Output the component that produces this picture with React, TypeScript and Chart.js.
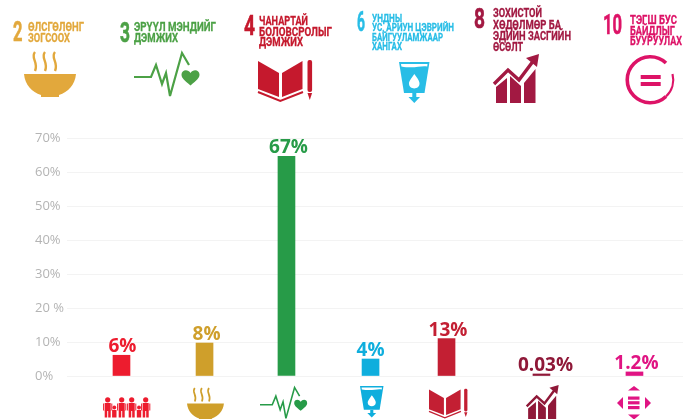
import React, { useEffect, useRef } from "react";
import { Chart, registerables } from "chart.js";

Chart.register(...registerables);

const categories = ["Ядуурал", "Өлсгөлөн", "Эрүүл мэнд", "Ус", "Боловсрол", "Хөдөлмөр", "Тэгш бус байдал"];
const barValues = [6.1, 9.7, 64.6, 5, 11, 0.6, 1.2];
const valueLabels = ["6%", "8%", "67%", "4%", "13%", "0.03%", "1.2%"];
const barColors = ["#ED1C2E", "#CF9F2B", "#279B48", "#0FAEDD", "#C31F33", "#8F1838", "#E01483"];
const tickLabels = ["0%", "10%", "20 %", "30%", "40%", "50%", "60%", "70%"];
const barSlots = [0.641, 1.618, 2.582, 3.571, 4.465, 5.582, 6.676];
const labelShifts = [1, 2, 2, 0, 1.5, 4, 2];

type Heading = { digit: string; digitX: number; digitY: number; digitW: number; color: string; x: number; size: number; lines: any[]; baselines: number[] };

const headings: Heading[] = [
  { digit: "2", digitX: 13, digitY: 41, digitW: 9.5, color: "#E2A83C", x: 28, size: 13, baselines: [30.5, 41.5], lines: [["ӨЛСГӨЛӨНГ", 56], ["ЗОГСООХ", 42]] },
  { digit: "3", digitX: 120, digitY: 42, digitW: 10, color: "#4CA146", x: 134, size: 13, baselines: [31, 42], lines: [["ЭРҮҮЛ МЭНДИЙГ", 82], ["ДЭМЖИХ", 44]] },
  { digit: "4", digitX: 244, digitY: 35, digitW: 11, color: "#C5192D", x: 259, size: 13, baselines: [25, 35.5, 46], lines: [["ЧАНАРТАЙ", 49], ["БОЛОВСРОЛЫГ", 73], ["ДЭМЖИХ", 44]] },
  { digit: "6", digitX: 357, digitY: 31, digitW: 8, color: "#28BDE6", x: 372, size: 11, baselines: [21.5, 31, 40.5, 49.5], lines: [["УНДНЫ", 30], ["УС, АРИУН ЦЭВРИЙН", 82], ["БАЙГУУЛАМЖААР", 71], ["ХАНГАХ", 30]] },
  { digit: "8", digitX: 474, digitY: 28, digitW: 11, color: "#A21942", x: 493, size: 13, baselines: [17, 29, 40, 51], lines: [["ЗОХИСТОЙ", 49], ["ХӨДӨЛМӨР БА", 68], ["ЭДИЙН ЗАСГИЙН", 78], ["ӨСӨЛТ", 30]] },
  { digit: "10", digitX: 603, digitY: 34, digitW: 19, color: "#DD1367", x: 630, size: 13, baselines: [24, 34.5, 45], lines: [["ТЭГШ БУС", 47], ["БАЙДЛЫГ", 45], ["БУУРУУЛАХ", 52]] },
];

const valueLabelPlugin = {
  id: "valueLabels",
  afterDatasetsDraw(chart: any) {
    const { ctx } = chart;
    const meta = chart.getDatasetMeta(0);
    ctx.save();
    ctx.textAlign = "center";
    ctx.textBaseline = "alphabetic";
    ctx.font = "700 19px 'Open Sans'";
    meta.data.forEach((bar: any, i: number) => {
      ctx.fillStyle = barColors[i];
      ctx.fillText(valueLabels[i], bar.x + labelShifts[i], bar.y - 3);
    });
    ctx.restore();
  },
};

const Bowl = ({ x, y, s, c }: any) => (
  <g transform={`translate(${x} ${y}) scale(${s})`}>
    {[9, 19, 29].map((d) => (
      <path key={d} d={`M${d + 2} 0 C${d - 3} 6 ${d + 6} 10 ${d + 2} 19`} fill="none" stroke={c} strokeWidth="2.4" />
    ))}
    <path d="M0 22 H52 C51 33 44 40 35 43 V45 H17 V43 C8 40 1 33 0 22Z" fill={c} />
  </g>
);

const Pulse = ({ x, y, s, c, heart }: any) => (
  <g transform={`translate(${x} ${y}) scale(${s})`}>
    <polyline points="0,26 17,26 22,14 28,33 32,22 36,45 48,2 55,14" fill="none" stroke={c} strokeWidth="2.2" />
    <path d="M56.5 34.5 C50 29 47.5 27 47.5 23.5 C47.5 18.5 54 17.5 56.5 22 C59 17.5 65.5 18.5 65.5 23.5 C65.5 27 63 29 56.5 34.5Z" fill={heart} />
  </g>
);

const Book = ({ x, y, s, c }: any) => (
  <g transform={`translate(${x} ${y}) scale(${s})`} fill={c}>
    <polygon points="0,2 21,14 21,38 0,30" />
    <polygon points="24,14 44.5,2 44.5,30 24,38" />
    <polyline points="0,33 22.3,42 45,33" fill="none" stroke={c} strokeWidth="2" />
    <rect x="49.5" y="1" width="4.6" height="32" rx="2" />
    <polygon points="49.5,34 54.1,34 51.8,41" />
  </g>
);

const Water = ({ x, y, s, c }: any) => (
  <g transform={`translate(${x} ${y}) scale(${s})`}>
    <polygon points="0,0 30.5,0 25.5,31 5,31" fill={c} />
    <path d="M2 2 H28.5 L28.2 4.5 C22 3 16 7 2.4 4.5Z" fill="#fff" />
    <path d="M15.3 12 C19 17 20.5 19 20.5 21.5 C20.5 28 10 28 10 21.5 C10 19 12 17 15.3 12Z" fill="#fff" />
    <rect x="13.3" y="31" width="4" height="5" fill={c} />
    <polygon points="9.5,35 21,35 15.3,41" fill={c} />
  </g>
);

const Growth = ({ x, y, s, c }: any) => (
  <g transform={`translate(${x} ${y}) scale(${s})`} fill={c}>
    <polygon points="3,33 14,24 14,49 3,49" />
    <polygon points="17,22 28,32 28,49 17,49" />
    <polygon points="31,29 42.5,15 42.5,49 31,49" />
    <polyline points="1,30 15,16 26,26 41,6" fill="none" stroke={c} strokeWidth="3.4" />
    <polygon points="46,0 33,4 44,13" />
  </g>
);

const EqualRing = ({ x, y, c }: any) => (
  <g transform={`translate(${x} ${y})`}>
    <path d="M16 -17 A23 23 0 1 0 16 16.5" fill="none" stroke={c} strokeWidth="3.6" />
    <path d="M16 16.5 A23 23 0 0 0 22.5 -6" fill="none" stroke={c} strokeWidth="2.2" />
    <rect x="-9.3" y="-5" width="20" height="4" fill={c} />
    <rect x="-9.3" y="2" width="20" height="4" fill={c} />
  </g>
);

const Family = ({ c }: any) => (
  <g fill={c}>
    {[107.7, 121.7, 131.7, 145.7].map((cx) => (
      <g key={cx}>
        <circle cx={cx} cy={399.8} r={2.6} />
        <rect x={cx - 3} y={403} width={6} height={8} />
        <rect x={cx - 3} y={410.5} width={2.5} height={7} />
        <rect x={cx + 0.5} y={410.5} width={2.5} height={7} />
        <rect x={cx - 4.6} y={403.5} width={1} height={7} />
        <rect x={cx + 3.6} y={403.5} width={1} height={7} />
      </g>
    ))}
    {[114.3, 139].map((cx) => (
      <g key={cx}>
        <circle cx={cx} cy={407.5} r={1.9} />
        <rect x={cx - 2.2} y={410} width={4.4} height={7.5} />
      </g>
    ))}
  </g>
);

const Arrows = ({ c }: any) => (
  <g fill={c}>
    <polygon points="634,386 640,390.5 628,390.5" />
    <polygon points="634,419.5 640,414.5 628,414.5" />
    <polygon points="617,403 623,397 623,409" />
    <polygon points="651,403 645,397 645,409" />
    <rect x="628" y="396.5" width="11.5" height="3.2" />
    <rect x="628" y="401.2" width="11.5" height="3.2" />
    <rect x="628" y="406" width="11.5" height="3.2" />
  </g>
);

export default function App() {
  const ref = useRef<HTMLCanvasElement>(null);
  useEffect(() => {
    const chart = new Chart(ref.current as HTMLCanvasElement, {
      type: "bar",
      data: {
        labels: categories,
        datasets: [
          {
            data: barValues.map((v, i) => ({ x: barSlots[i], y: v })),
            backgroundColor: barColors,
            barThickness: 17,
            borderWidth: 0,
          },
        ],
      },
      options: {
        responsive: false,
        animation: false,
        layout: { padding: { left: 35, right: 0, top: 138, bottom: 43 } },
        plugins: { legend: { display: false }, tooltip: { enabled: false } },
        scales: {
          x: {
            type: "linear",
            min: 0,
            max: 7.247,
            offset: false,
            display: false,
          },
          y: {
            min: 0,
            max: 70,
            afterFit: (axis: any) => {
              axis.width = 32;
            },
            border: { display: false },
            grid: { color: "#F3F3F3", lineWidth: 1, drawTicks: false },
            ticks: {
              stepSize: 10,
              padding: 0,
              crossAlign: "far",
              color: "#B4B4B4",
              font: { family: "'Open Sans'", size: 13, weight: "400" },
              callback: (_v: any, i: number) => tickLabels[i],
            },
          },
        },
      },
      plugins: [valueLabelPlugin],
    } as any);
    return () => chart.destroy();
  }, []);

  return (
    <div style={{ position: "absolute", left: 0, top: 0, width: 683, height: 419, overflow: "hidden", background: "#fff" }}>
      <canvas ref={ref} width={683} height={419} style={{ position: "absolute", left: 0, top: 0 }} />
      <svg width={683} height={419} style={{ position: "absolute", left: 0, top: 0, filter: "blur(0.3px)" }}>
        {headings.map((h) => (
          <g key={h.digit} fill={h.color} stroke={h.color} strokeWidth={0.3} fontFamily="Roboto" fontWeight="700">
            <text x={h.digitX} y={h.digitY} fontSize={28} strokeWidth={0.6} textLength={h.digitW} lengthAdjust="spacingAndGlyphs">
              {h.digit}
            </text>
            {h.lines.map((l: any, i: number) => (
              <text key={l[0]} x={h.x} y={h.baselines[i]} fontSize={h.size} textLength={l[1]} lengthAdjust="spacingAndGlyphs">
                {l[0]}
              </text>
            ))}
          </g>
        ))}
        <Bowl x={24} y={52} s={1} c="#E2A83C" />
        <Pulse x={134} y={51} s={1} c="#4CA146" heart="#4CA146" />
        <Book x={258} y={59} s={1} c="#C5192D" />
        <Water x={399} y={62} s={1} c="#28BDE6" />
        <Growth x={493} y={54} s={1} c="#A21942" />
        <EqualRing x={650} y={80} c="#DD1367" />
        <Family c="#ED1C2E" />
        <Bowl x={187} y={388} s={0.71} c="#CF9F2B" />
        <Pulse x={260} y={386} s={0.72} c="#279B48" heart="#279B48" />
        <Water x={360} y={386} s={0.77} c="#0FAEDD" />
        <Book x={429} y={388} s={0.71} c="#C31F33" />
        <Growth x={526} y={385} s={0.71} c="#8F1838" />
        <Arrows c="#E01483" />
      </svg>
    </div>
  );
}
